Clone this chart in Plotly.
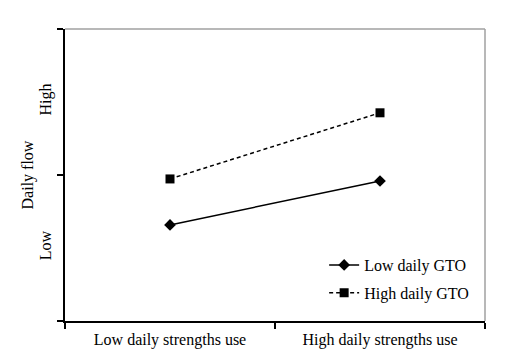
import plotly.graph_objects as go

categories_x = [0.5, 1.5]
x_labels = ["Low daily strengths use", "High daily strengths use"]
y_label_vals = [0.5, 1.5]
y_labels = ["Low", "High"]
low_gto = [0.658, 0.959]
high_gto = [0.973, 1.426]
series_names = ["Low daily GTO", "High daily GTO"]
y_title = "Daily flow"

FONT = "Liberation Serif, Times New Roman, serif"
FS = 16

fig = go.Figure()
fig.add_trace(go.Scatter(
    x=categories_x, y=low_gto, name=series_names[0], mode="lines+markers",
    line=dict(color="black", width=1.5),
    marker=dict(symbol="diamond", size=9, color="black"),
    legendgroup="a",
))
fig.add_trace(go.Scatter(
    x=categories_x, y=high_gto, name=series_names[1], mode="lines+markers",
    line=dict(color="black", width=1.5, dash="4px,3px"),
    marker=dict(symbol="square", size=9, color="black"),
    legendgroup="b",
))

fig.update_layout(
    width=523, height=360,
    margin=dict(l=65, r=38, t=29, b=39),
    paper_bgcolor="white", plot_bgcolor="white",
    font=dict(family=FONT, size=FS, color="black"),
    showlegend=True,
    legend=dict(x=0.617, y=0.25, xanchor="left", yanchor="top",
                bgcolor="rgba(0,0,0,0)", tracegroupgap=4,
                font=dict(family=FONT, size=FS)),
    xaxis=dict(range=[0, 2], showgrid=False, zeroline=False, automargin=False,
               showline=True, linecolor="black", linewidth=1.5,
               tickvals=categories_x, ticktext=x_labels, ticks="",
               tickfont=dict(family=FONT, size=FS),
               minor=dict(tickvals=[0, 1, 2], ticks="outside", ticklen=6,
                          tickcolor="black", tickwidth=1.5),
               ticklabelstandoff=3),
    yaxis=dict(range=[0, 2], showgrid=False, zeroline=False, automargin=False,
               showline=True, linecolor="black", linewidth=1.5,
               tickvals=y_label_vals, ticktext=y_labels, ticks="",
               tickangle=-90,
               tickfont=dict(family=FONT, size=FS),
               minor=dict(tickvals=[0, 1, 2], ticks="outside", ticklen=6,
                          tickcolor="black", tickwidth=1.5),
               ticklabelstandoff=6),
    annotations=[
        dict(text=y_title, xref="paper", yref="paper", x=-0.087, y=0.5,
             xanchor="center", yanchor="middle", textangle=-90,
             showarrow=False, font=dict(family=FONT, size=FS)),
    ],
    shapes=[
        dict(type="line", xref="paper", yref="paper", x0=0, x1=1, y0=1, y1=1,
             line=dict(color="#a0a0a0", width=1.5)),
        dict(type="line", xref="paper", yref="paper", x0=1, x1=1, y0=0, y1=1,
             line=dict(color="#a0a0a0", width=1.5)),
    ],
)

fig.write_html("out.html", config={"displayModeBar": False},
               post_script="document.body.style.margin='0';")
